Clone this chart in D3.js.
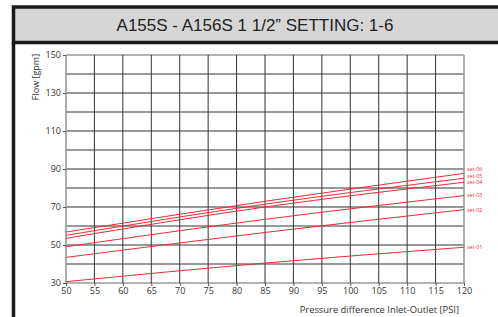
<!DOCTYPE html>
<html>
<head>
<meta charset="utf-8">
<script src="https://cdn.jsdelivr.net/npm/d3@7"></script>
<style>
  body { margin: 0; background: #fff; }
  svg { display: block; }
</style>
</head>
<body>
<div id="chart"></div>
<script>
// データ
const titleText = 'A155S - A156S 1 1/2\u201D SETTING: 1-6';
const pressures = [50, 85, 120];
const seriesNames = ['set-01', 'set-02', 'set-03', 'set-04', 'set-05', 'set-06'];
const set01 = [30.7, 40.5, 48.8];
const set02 = [43.5, 56.6, 68.6];
const set03 = [49.1, 63.5, 76.0];
const set04 = [53.5, 70.0, 83.0];
const set05 = [55.1, 71.5, 85.1];
const set06 = [56.8, 73.0, 87.7];
const xTicks = d3.range(50, 121, 5);
const yGrid = d3.range(30, 151, 10);
const yTicks = [30, 50, 70, 90, 110, 130, 150];

const seriesValues = [set01, set02, set03, set04, set05, set06];

// 大きさ
const width = 498;
const height = 317;
const margin = {top: 55, right: 34, bottom: 34, left: 66};

const svg = d3.select('#chart')
  .append('svg')
  .attr('width', width)
  .attr('height', height);

// 枠とタイトル
svg.append('rect')
  .attr('x', 13.5).attr('y', 7)
  .attr('width', width).attr('height', 35.5)
  .attr('fill', '#d6d6d6')
  .attr('stroke', '#1a1a1a')
  .attr('stroke-width', 3.5);
svg.append('line')
  .attr('x1', 13.5).attr('x2', 13.5)
  .attr('y1', 42).attr('y2', height)
  .attr('stroke', '#1a1a1a')
  .attr('stroke-width', 3.5);

svg.append('text')
  .attr('x', 255).attr('y', 30.5)
  .attr('text-anchor', 'middle')
  .attr('font-family', 'Liberation Sans, Arial, sans-serif')
  .attr('font-size', 17)
  .attr('fill', '#222')
  .text(titleText);

// スケール
const x = d3.scaleLinear().domain([50, 120]).range([margin.left, width - margin.right]);
const y = d3.scaleLinear().domain([30, 150]).range([height - margin.bottom, margin.top]);

const g = svg.append('g');

// グリッド
g.selectAll('.hgrid')
  .data(yGrid)
  .enter()
  .append('line')
  .attr('x1', x(50)).attr('x2', x(120))
  .attr('y1', d => y(d)).attr('y2', d => y(d))
  .attr('stroke', d => (d === 30 || d === 150) ? '#999' : '#333')
  .attr('stroke-width', d => (d === 30 || d === 150) ? 1.6 : 1);

g.selectAll('.vgrid')
  .data(xTicks)
  .enter()
  .append('line')
  .attr('y1', y(30)).attr('y2', y(150))
  .attr('x1', d => x(d)).attr('x2', d => x(d))
  .attr('stroke', d => (d === 50 || d === 120) ? '#999' : '#333')
  .attr('stroke-width', d => (d === 50 || d === 120) ? 1.6 : 1);

// 軸
const fontAxis = 'Open Sans, DejaVu Sans, sans-serif';
const yAxis = g.append('g')
  .attr('transform', `translate(${margin.left},0)`)
  .call(d3.axisLeft(y).tickValues(yTicks).tickSize(3).tickPadding(2));
const xAxis = g.append('g')
  .attr('transform', `translate(0,${height - margin.bottom})`)
  .call(d3.axisBottom(x).tickValues(xTicks).tickSize(3).tickPadding(1.5));
[xAxis, yAxis].forEach(a => {
  a.select('.domain').remove();
  a.selectAll('.tick line').attr('stroke', '#555');
  a.selectAll('text')
    .attr('font-family', fontAxis)
    .attr('font-size', 9)
    .attr('fill', '#333');
});

// 軸ラベル
svg.append('text')
  .attr('transform', 'translate(39,77) rotate(-90)')
  .attr('text-anchor', 'middle')
  .attr('font-family', fontAxis)
  .attr('font-size', 9)
  .attr('fill', '#333')
  .text('Flow [gpm]');
svg.append('text')
  .attr('x', 459).attr('y', 313)
  .attr('text-anchor', 'end')
  .attr('font-family', fontAxis)
  .attr('font-size', 9.4)
  .attr('fill', '#333')
  .text('Pressure difference Inlet-Outlet [PSI]');

// 線
const line = d3.line()
  .x((d, i) => x(pressures[i]))
  .y(d => y(d))
  .curve(d3.curveNatural);

g.selectAll('.series')
  .data(seriesValues)
  .enter()
  .append('path')
  .attr('d', line)
  .attr('fill', 'none')
  .attr('stroke', '#ee2a35')
  .attr('stroke-width', 1);

// ラベル
const labelOffsets = [-0.5, 0, -0.5, 0.3, -2.3, -4.3];
g.selectAll('.label')
  .data(seriesNames)
  .enter()
  .append('text')
  .attr('x', x(120) + 3)
  .attr('y', (d, i) => y(seriesValues[i][2]) + labelOffsets[i])
  .attr('dy', '0.35em')
  .attr('font-family', fontAxis)
  .attr('font-size', 5.4)
  .attr('fill', '#ee2a35')
  .text(d => d);
</script>
</body>
</html>
